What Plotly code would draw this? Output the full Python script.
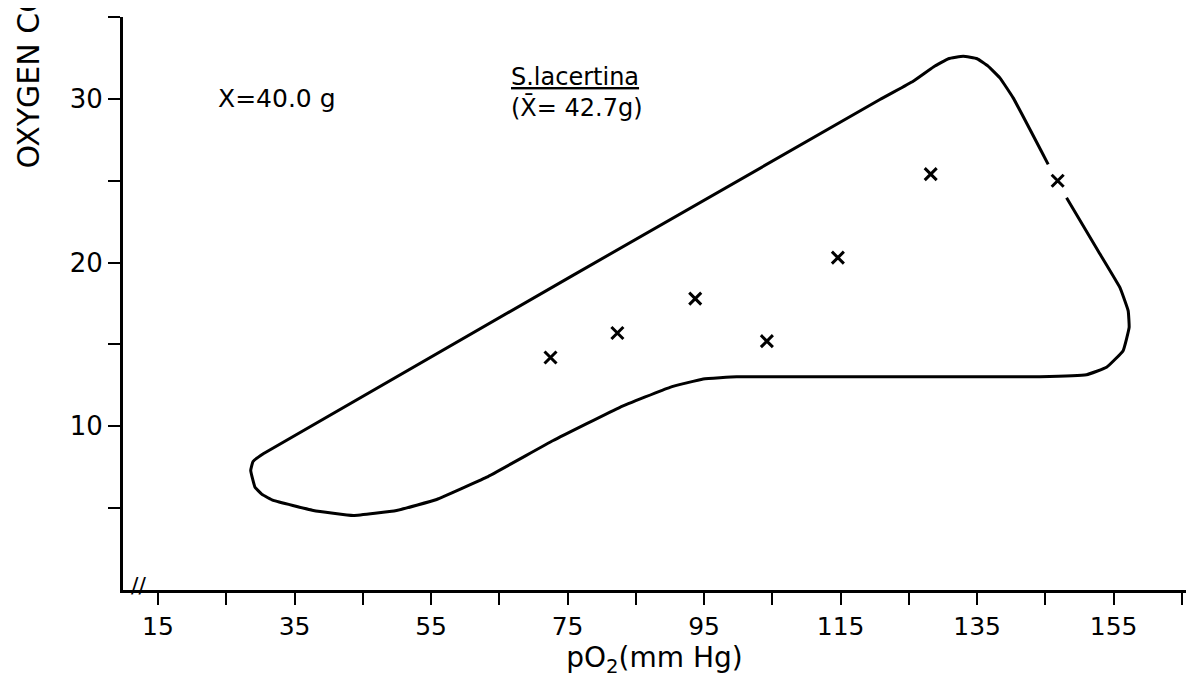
import plotly.graph_objects as go

# Observed data points (pO2 in mm Hg, oxygen consumption)
po2_points = [72.5, 82.3, 93.7, 104.2, 114.6, 128.2, 146.8]
o2_points = [14.2, 15.7, 17.8, 15.2, 20.3, 25.4, 25.0]

# Envelope outline (traced), gap where it passes the last point
env_x = [148.1, 152.73, 155.91, 157.13, 157.27, 156.39, 153.96, 151.03, 144.19,
         104.64, 99.77, 94.87, 90.0, 82.67, 72.9, 63.15, 55.82, 49.96, 43.61,
         37.75, 31.89, 30.23, 29.21, 28.58, 28.92, 30.42, 120.76, 125.63,
         128.6, 130.8, 132.96, 135.0, 136.6, 138.33, 140.28, 145.41]
env_y = [23.96, 20.71, 18.48, 17.05, 16.04, 14.62, 13.60, 13.15, 13.03,
         13.03, 13.03, 12.89, 12.38, 11.16, 9.13, 6.89, 5.53, 4.86, 4.55,
         4.86, 5.47, 5.84, 6.28, 7.30, 7.85, 8.32, 29.96, 31.08,
         31.95, 32.45, 32.60, 32.45, 32.0, 31.28, 30.06, 26.0]

x_tickvals = [15, 25, 35, 45, 55, 65, 75, 85, 95, 105, 115, 125, 135, 145, 155, 165]
x_ticktext = ["15", "", "35", "", "55", "", "75", "", "95", "", "115", "", "135", "", "155", ""]
y_tickvals = [5, 10, 15, 20, 25, 30, 35]
y_ticktext = ["", "10", "", "20", "", "30", ""]

FONT = "DejaVu Sans"

fig = go.Figure()
fig.add_trace(go.Scatter(
    x=env_x, y=env_y, mode="lines",
    line=dict(color="black", width=3, shape="spline", smoothing=0.3),
    hoverinfo="skip", showlegend=False))
fig.add_trace(go.Scatter(
    x=po2_points, y=o2_points, mode="markers",
    marker=dict(symbol="x-thin", size=12, line=dict(color="black", width=3)),
    showlegend=False))

fig.add_annotation(x=32.4, y=30.0, xref="x", yref="y", text="X=40.0 g",
                   showarrow=False, font=dict(family=FONT, size=25, color="black"))
fig.add_annotation(x=76.4, y=30.4, xref="x", yref="y",
                   text="<u>S.lacertina</u><br>(X\u0304= 42.7g)",
                   showarrow=False, align="left",
                   font=dict(family=FONT, size=24, color="black"))
fig.add_annotation(x=-0.088, y=0.733, xref="paper", yref="paper",
                   text="OXYGEN CONSUMPTION", textangle=-90,
                   xanchor="center", yanchor="bottom", showarrow=False,
                   font=dict(family=FONT, size=30, color="black"))
fig.add_annotation(x=12.2, y=0.3, xref="x", yref="y", text="//",
                   showarrow=False, font=dict(family=FONT, size=22, color="black"))

fig.update_layout(
    width=1187, height=679,
    margin=dict(l=115, r=9, t=9, b=97),
    paper_bgcolor="white", plot_bgcolor="white",
    font=dict(family=FONT, size=26, color="black"),
    xaxis=dict(range=[9.87, 165.6], tickvals=x_tickvals, ticktext=x_ticktext,
               ticks="outside", ticklen=12, tickwidth=2, tickcolor="black",
               showline=True, linewidth=3, linecolor="black",
               showgrid=False, zeroline=False,
               tickfont=dict(family=FONT, size=25),
               title=dict(text="pO<sub>2</sub>(mm Hg)", standoff=6,
                          font=dict(family=FONT, size=28))),
    yaxis=dict(range=[0, 35], tickvals=y_tickvals, ticktext=y_ticktext,
               ticks="outside", ticklen=12, tickwidth=2, tickcolor="black",
               showline=True, linewidth=3, linecolor="black",
               tickfont=dict(family=FONT, size=26),
               showgrid=False, zeroline=False),
)
fig.write_html("out.html")
